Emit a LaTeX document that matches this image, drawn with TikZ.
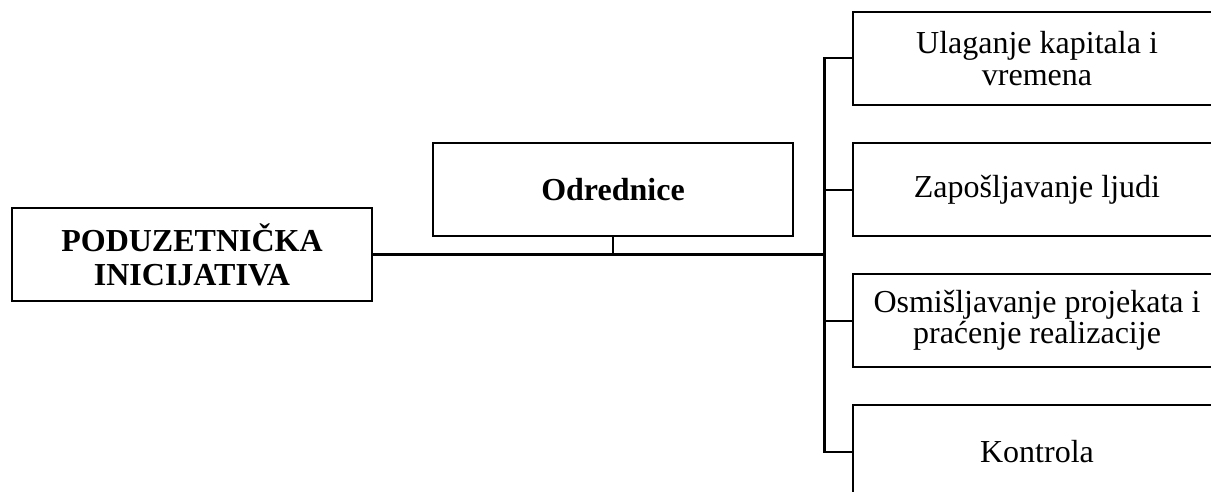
\documentclass[tikz,border=0pt]{standalone}
\usepackage{fontspec}
\setmainfont{Liberation Serif}
\begin{document}
\begin{tikzpicture}[x=0.75pt, y=-0.75pt,
	block/.style={draw, line width=1.5pt, minimum width=270pt, minimum height=69.75pt,
		inner sep=0pt, align=center, font=\fontsize{24}{23.5}\selectfont},
	head/.style={block, font=\fontsize{24}{25.5}\selectfont\bfseries},
	task/.style={block, minimum width=276pt},
	link/.style={line width=1.5pt},
	trunk/.style={line width=2.25pt, line cap=rect}]
% Parameters
\def\tasknum{4}
\def\taskgap{131}
\useasboundingbox (0,0) rectangle (1211,492);

% Main blocks
\node[head] (Init) at (192,254.5) {PODUZETNIČKA\\INICIJATIVA};
\node[head] (Odr) at (613,189.5) {Odrednice};
\coordinate (Spine) at (824,254);

% Task blocks
\foreach \t [count=\i] in {{Ulaganje kapitala i\\vremena}, {Zapošljavanje ljudi},
	{Osmišljavanje projekata i\\praćenje realizacije}, {Kontrola}}
{
	\node[task] (Task-\i) at (1037,{58.5+\taskgap*(\i-1)}) {\t};
}

% Connect Init-Spine
\draw[trunk] (Init.east) -- (Init.east -| Spine);
\draw[link] (Odr.south) -- (Odr.south |- Init.east);
\draw[trunk] (Task-1.west -| Spine) -- (Task-\tasknum.west -| Spine);

% Connect Spine-Tasks
\foreach \i in {1,...,\tasknum}
{
	\draw[link] (Task-\i.west -| Spine) -- (Task-\i.west);
}
\end{tikzpicture}
\end{document}
